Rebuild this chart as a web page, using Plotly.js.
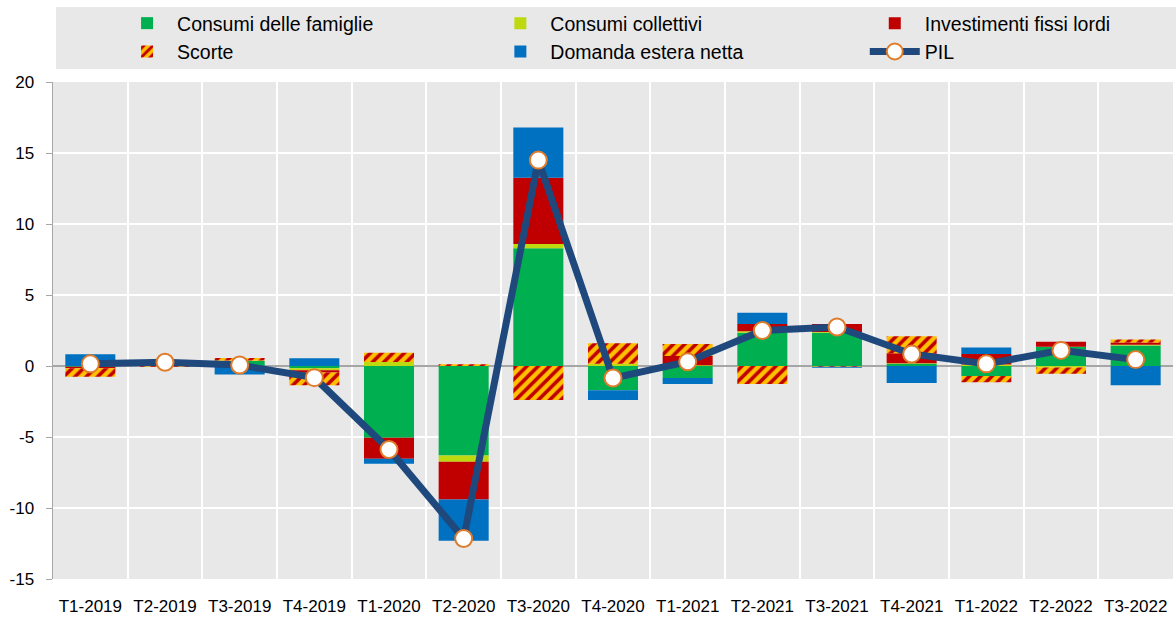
<!DOCTYPE html>
<html>
<head>
<meta charset="utf-8">
<script src="https://cdn.plot.ly/plotly-3.0.1.min.js"></script>
<style>html,body{margin:0;padding:0;background:#fff;}#chart{width:1176px;height:619px;}</style>
</head>
<body>
<div id="chart"></div>
<script>
var categories = ["T1-2019","T2-2019","T3-2019","T4-2019","T1-2020","T2-2020","T3-2020","T4-2020","T1-2021","T2-2021","T3-2021","T4-2021","T1-2022","T2-2022","T3-2022"];
var consumiFamiglie     = [-0.05, 0.10, 0.35, -0.15, -5.05, -6.30, 8.30, -1.70, -0.85, 2.35, 2.35, 0.15, -0.70, 1.35, 1.45];
var consumiCollettivi   = [0.00, 0.03, 0.03, -0.15, 0.28, -0.45, 0.30, 0.15, 0.05, 0.10, 0.05, 0.05, 0.10, -0.10, 0.05];
var investimenti        = [-0.10, 0.05, 0.00, -0.15, -1.48, -2.65, 4.65, 0.00, 0.65, 0.50, 0.55, 0.70, 0.75, 0.35, 0.15];
var scorte              = [-0.60, -0.05, 0.18, -0.90, 0.66, 0.12, -2.40, 1.45, 0.85, -1.27, -0.05, 1.20, -0.45, -0.45, 0.22];
var domandaEstera       = [0.82, 0.05, -0.60, 0.54, -0.35, -2.90, 3.55, -0.70, -0.42, 0.80, -0.07, -1.20, 0.45, 0.00, -1.35];
var pil                 = [0.15, 0.26, 0.07, -0.82, -5.88, -12.15, 14.50, -0.85, 0.30, 2.50, 2.75, 0.85, 0.15, 1.10, 0.45];
var yTickValues = [-15, -10, -5, 0, 5, 10, 15, 20];
var yTickLabels = ["-15", "-10", "-5", "0", "5", "10", "15", "20"];

var FONT = "Liberation Sans, Arial, sans-serif";

function barTrace(name, values, color, legendId, pattern) {
  var m = {color: color, line: {width: 0}};
  if (pattern) m.pattern = pattern;
  return {type: "bar", name: name, x: categories, y: values, marker: m, legend: legendId, hoverinfo: "y+name"};
}

var traces = [
  barTrace("Consumi delle famiglie", consumiFamiglie, "#00b050", "legend"),
  barTrace("Consumi collettivi", consumiCollettivi, "#bed90f", "legend2"),
  barTrace("Investimenti fissi lordi", investimenti, "#c00000", "legend3"),
  barTrace("Scorte", scorte, "#ffc000", "legend", {shape: "/", bgcolor: "#ffc000", fgcolor: "#c00000", size: 8, solidity: 0.45}),
  barTrace("Domanda estera netta", domandaEstera, "#0070c0", "legend2"),
  {type: "scatter", mode: "lines+markers", name: "PIL", x: categories, y: pil, legend: "legend3",
   line: {color: "#1f497d", width: 7},
   marker: {size: 17, color: "#ffffff", line: {color: "#e07b2a", width: 2}}}
];

function legendAt(xPaper) {
  return {
    orientation: "v", x: xPaper, xanchor: "left", y: 1.157, yanchor: "top",
    bgcolor: "rgba(0,0,0,0)", font: {family: FONT, size: 19.5, color: "#000"},
    itemwidth: 50, traceorder: "normal"
  };
}

var layout = {
  width: 1176, height: 619,
  margin: {l: 53, r: 3, t: 82, b: 40},
  paper_bgcolor: "#ffffff",
  plot_bgcolor: "#e8e8e8",
  barmode: "relative",
  bargap: 0.33,
  font: {family: FONT, color: "#000000", size: 17},
  showlegend: true,
  legend: legendAt(0.0572),
  legend2: legendAt(0.3905),
  legend3: legendAt(0.7248),
  shapes: [{
    type: "rect", xref: "paper", yref: "paper", x0: 0.0027, x1: 1.004, y0: 1.0262, y1: 1.151,
    fillcolor: "#e8e8e8", line: {width: 0}, layer: "below"
  }],
  xaxis: {
    type: "category", range: [-0.5, categories.length - 0.5], tickson: "boundaries",
    showgrid: true, gridcolor: "#ffffff", gridwidth: 2,
    ticks: "", showline: false, zeroline: false, tickfont: {size: 17}, tickangle: 0, ticklabelstandoff: 15
  },
  yaxis: {
    range: [-15, 20], tickmode: "array", tickvals: yTickValues, ticktext: yTickLabels,
    showgrid: true, gridcolor: "#ffffff", gridwidth: 2,
    zeroline: true, zerolinecolor: "#a6a6a6", zerolinewidth: 1.5,
    showline: true, linecolor: "#a6a6a6", linewidth: 1.5,
    ticks: "outside", ticklen: 6, tickcolor: "#a6a6a6", tickfont: {size: 17}, ticklabelstandoff: 8
  }
};

Plotly.newPlot("chart", traces, layout, {displayModeBar: false, staticPlot: true});
</script>
</body>
</html>
